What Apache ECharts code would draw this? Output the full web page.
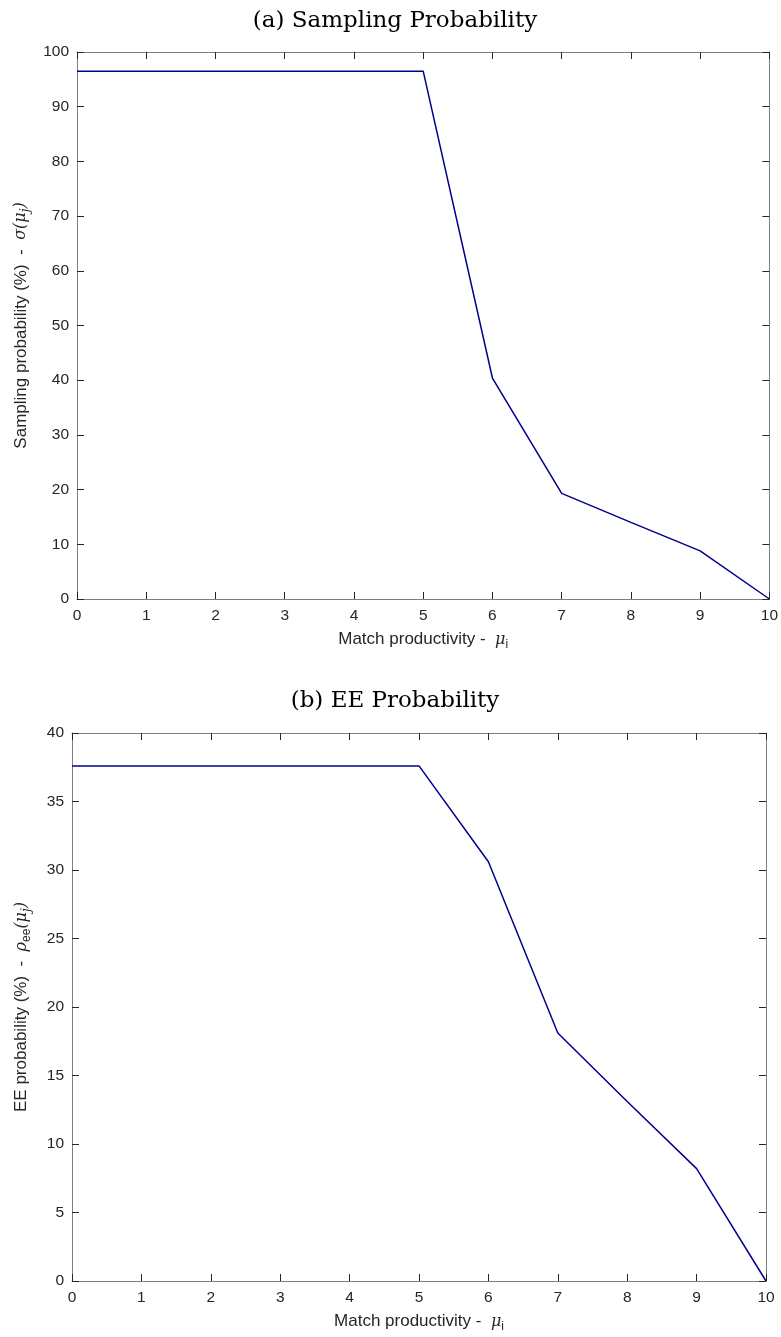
<!DOCTYPE html>
<html><head><meta charset="utf-8">
<script src="https://cdn.jsdelivr.net/npm/echarts@6/dist/echarts.min.js"></script>
<style>html,body{margin:0;padding:0;background:#fff}#c{width:781px;height:1337px}</style>
</head><body><div id="c"></div>
<script>
const xValues = [0,1,2,3,4,5,6,7,8,9,10];
const samplingProb = [96.5,96.5,96.5,96.5,96.5,96.5,40.4,19.3,14.0,8.8,0];
const eeProb = [37.6,37.6,37.6,37.6,37.6,37.6,30.6,18.1,13.1,8.2,0];
const titles = ['(a) Sampling Probability','(b) EE Probability'];

const chart = echarts.init(document.getElementById('c'));
const axisCol = '#7f7f7f';
const tickCol = '#262626';
const lab = {color:'#262626', fontFamily:'Liberation Sans', fontSize:15.5};
const rich = {
  t:{fontFamily:'Liberation Sans', fontSize:17, color:'#262626'},
  m:{fontFamily:'DejaVu Serif', fontStyle:'italic', fontSize:16, color:'#262626'},
  s:{fontFamily:'Liberation Sans', fontSize:12, color:'#262626', padding:[0,0,-10,0]},
  si:{fontFamily:'DejaVu Serif', fontStyle:'italic', fontSize:12, color:'#262626', padding:[0,0,-10,0]}
};
function xAxes(gi){
  return [{
    type:'value', gridIndex:gi, min:0, max:10, interval:1, position:'bottom',
    axisLine:{onZero:false,lineStyle:{color:axisCol,width:1}},
    axisTick:{inside:true,length:7,lineStyle:{color:tickCol}},
    axisLabel:Object.assign({margin:9},lab), splitLine:{show:false},
    name:'{t|Match productivity -  }{m|μ}{s|i}', nameLocation:'middle', nameGap:32,
    nameTextStyle:{rich:rich}
  },{
    type:'value', gridIndex:gi, min:0, max:10, interval:1, position:'top',
    axisLine:{onZero:false,lineStyle:{color:axisCol,width:1}},
    axisTick:{inside:true,length:7,lineStyle:{color:tickCol}},
    axisLabel:{show:false}, splitLine:{show:false}
  }];
}
function yAxes(gi,max,interval,name){
  return [{
    type:'value', gridIndex:gi, min:0, max:max, interval:interval, position:'left',
    axisLine:{show:true,onZero:false,lineStyle:{color:axisCol,width:1}},
    axisTick:{show:true,inside:true,length:7,lineStyle:{color:tickCol}},
    axisLabel:Object.assign({margin:8},lab), splitLine:{show:false},
    name:name, nameLocation:'middle', nameGap:42, nameRotate:90,
    nameTextStyle:{rich:rich}
  },{
    type:'value', gridIndex:gi, min:0, max:max, interval:interval, position:'right',
    axisLine:{show:true,onZero:false,lineStyle:{color:axisCol,width:1}},
    axisTick:{show:true,inside:true,length:7,lineStyle:{color:tickCol}},
    axisLabel:{show:false}, splitLine:{show:false}
  }];
}
const d1 = xValues.map((x,i)=>[x,samplingProb[i]]);
const d2 = xValues.map((x,i)=>[x,eeProb[i]]);
chart.setOption({
  animation:false,
  title:[
    {text:titles[0], left:390, top:5, textAlign:'center', textStyle:{fontFamily:'DejaVu Serif',fontWeight:'normal',fontSize:23,color:'#000'}},
    {text:titles[1], left:390, top:685, textAlign:'center', textStyle:{fontFamily:'DejaVu Serif',fontWeight:'normal',fontSize:23,color:'#000'}}
  ],
  grid:[
    {left:77, right:10, top:52, height:547},
    {left:72, right:15, top:733, height:548}
  ],
  xAxis:[...xAxes(0), ...xAxes(1)],
  yAxis:[...yAxes(0,100,10,'{t|Sampling probability (%)  -  }{m|σ(μ}{si|j}{m|)}'),
         ...yAxes(1,40,5,'{t|EE probability (%)  -  }{m|ρ}{s|ee}{m|(μ}{si|j}{m|)}')],
  series:[
    {type:'line', xAxisIndex:0, yAxisIndex:0, data:d1, showSymbol:false, lineStyle:{color:'#00008b',width:1.5}},
    {type:'line', xAxisIndex:2, yAxisIndex:2, data:d2, showSymbol:false, lineStyle:{color:'#00008b',width:1.5}}
  ]
});
</script></body></html>
